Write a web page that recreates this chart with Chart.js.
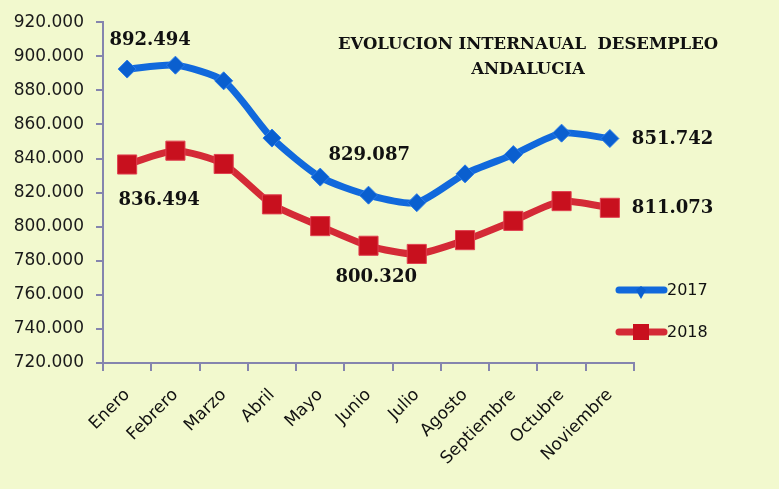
<!DOCTYPE html>
<html>
<head>
<meta charset="utf-8">
<script src="https://cdn.jsdelivr.net/npm/chart.js@4/dist/chart.umd.min.js"></script>
<style>
  html, body { margin: 0; padding: 0; background: #F2F9CE; }
  #wrap { width: 779px; height: 489px; }
</style>
</head>
<body>
<div id="wrap"><canvas id="c" width="779" height="489"></canvas></div>
<script>
const months = ["Enero","Febrero","Marzo","Abril","Mayo","Junio","Julio","Agosto","Septiembre","Octubre","Noviembre"];
const values2017 = [892494, 894800, 885600, 852000, 829087, 818500, 814100, 831000, 842300, 854900, 851742];
const values2018 = [836494, 844600, 836800, 813100, 800320, 788800, 784000, 792100, 803400, 815000, 811073];
const seriesNames = ["2017", "2018"];
const yTicks = [720000, 740000, 760000, 780000, 800000, 820000, 840000, 860000, 880000, 900000, 920000];
const titleLines = ["EVOLUCION INTERNAUAL  DESEMPLEO", "ANDALUCIA"];
// which points carry a value label: [datasetIndex, pointIndex, dx, dy, align]
const labelSpecs = [[0,0,23,-29,"center"],[1,0,32,36,"center"],[0,4,49,-22,"center"],[1,4,56,51,"center"],[0,10,22,1,"left"],[1,10,22,1,"left"]];

function fmt(v) {
  const s = String(Math.round(v));
  return s.replace(/\B(?=(\d{3})+(?!\d))/g, ".");
}

const blue = "#1169DC";
const red = "#D42A36";

const bgPlugin = {
  id: "bg",
  beforeDraw(chart) {
    const ctx = chart.ctx;
    ctx.save();
    ctx.fillStyle = "#F2F9CE";
    ctx.fillRect(0, 0, chart.width, chart.height);
    ctx.restore();
  }
};

const textPlugin = {
  id: "texts",
  afterDatasetsDraw(chart) {
    const ctx = chart.ctx;
    ctx.save();
    // title
    ctx.fillStyle = "#111";
    ctx.font = "bold 16.5px 'DejaVu Serif'";
    ctx.textAlign = "center";
    ctx.textBaseline = "middle";
    ctx.fillText(titleLines[0], 528, 45);
    ctx.fillText(titleLines[1], 528, 70);
    // value labels
    ctx.font = "bold 18px 'DejaVu Serif'";
    labelSpecs.forEach(([d, i, dx, dy, align]) => {
      const pt = chart.getDatasetMeta(d).data[i];
      const val = chart.data.datasets[d].data[i];
      ctx.textAlign = align;
      ctx.fillText(fmt(val), pt.x + dx, pt.y + dy);
    });
    // legend
    ctx.font = "16px 'DejaVu Sans'";
    ctx.textAlign = "left";
    chart.data.datasets.forEach((ds, k) => {
      const y = 290 + k * 42;
      ctx.strokeStyle = ds.borderColor;
      ctx.lineWidth = 7;
      ctx.lineCap = "round";
      ctx.beginPath();
      ctx.moveTo(619, y);
      ctx.lineTo(664, y);
      ctx.stroke();
      ctx.fillStyle = ds.pointBackgroundColor;
      ctx.strokeStyle = ds.pointBorderColor;
      ctx.lineWidth = 1;
      if (ds.pointStyle === "rectRot") {
        ctx.beginPath();
        ctx.moveTo(641, y + 9); ctx.lineTo(646, y); ctx.lineTo(641, y - 4); ctx.lineTo(636, y);
        ctx.closePath(); ctx.fill();
      } else {
        ctx.fillRect(633, y - 8, 16, 16);
      }
      ctx.fillStyle = "#111";
      ctx.fillText(ds.label, 667, y + 1);
    });
    ctx.restore();
  }
};

new Chart(document.getElementById("c"), {
  type: "line",
  data: {
    labels: months,
    datasets: [
      {
        label: seriesNames[0],
        data: values2017,
        borderColor: blue,
        borderWidth: 7,
        tension: 0.22,
        pointStyle: "rectRot",
        pointRadius: 9,
        pointBackgroundColor: "#0A5FCF",
        pointBorderColor: "#2A7BE8",
        pointBorderWidth: 1
      },
      {
        label: seriesNames[1],
        data: values2018,
        borderColor: red,
        borderWidth: 7,
        tension: 0.22,
        pointStyle: "rect",
        pointRadius: 13.5,
        pointBackgroundColor: "#C8101E",
        pointBorderColor: "#E04050",
        pointBorderWidth: 1
      }
    ]
  },
  options: {
    responsive: false,
    animation: false,
    devicePixelRatio: 1,
    layout: { padding: { top: 20, right: 145, left: 0, bottom: 0 } },
    plugins: {
      legend: { display: false },
      tooltip: { enabled: false }
    },
    scales: {
      x: {
        offset: true,
        grid: { offset: true, drawOnChartArea: false, drawTicks: true, tickLength: 8, color: "#8585AE", lineWidth: 2 },
        border: { color: "#8585AE", width: 2 },
        ticks: {
          minRotation: 45, maxRotation: 45, padding: 14,
          color: "#111",
          font: { family: "'DejaVu Sans'", size: 17 }
        },
        afterFit(scale) { scale.height = 126; }
      },
      y: {
        min: 720000, max: 920000,
        afterBuildTicks(scale) { scale.ticks = yTicks.map(v => ({ value: v })); },
        grid: { drawOnChartArea: false, drawTicks: true, tickLength: 7, color: "#8585AE", lineWidth: 2 },
        border: { color: "#8585AE", width: 2 },
        ticks: {
          padding: 12,
          color: "#1a1a1a",
          font: { family: "'DejaVu Sans'", size: 17 },
          callback: (v) => fmt(v)
        },
        afterFit(scale) { scale.width = 103; }
      }
    }
  },
  plugins: [bgPlugin, textPlugin]
});
</script>
</body>
</html>
